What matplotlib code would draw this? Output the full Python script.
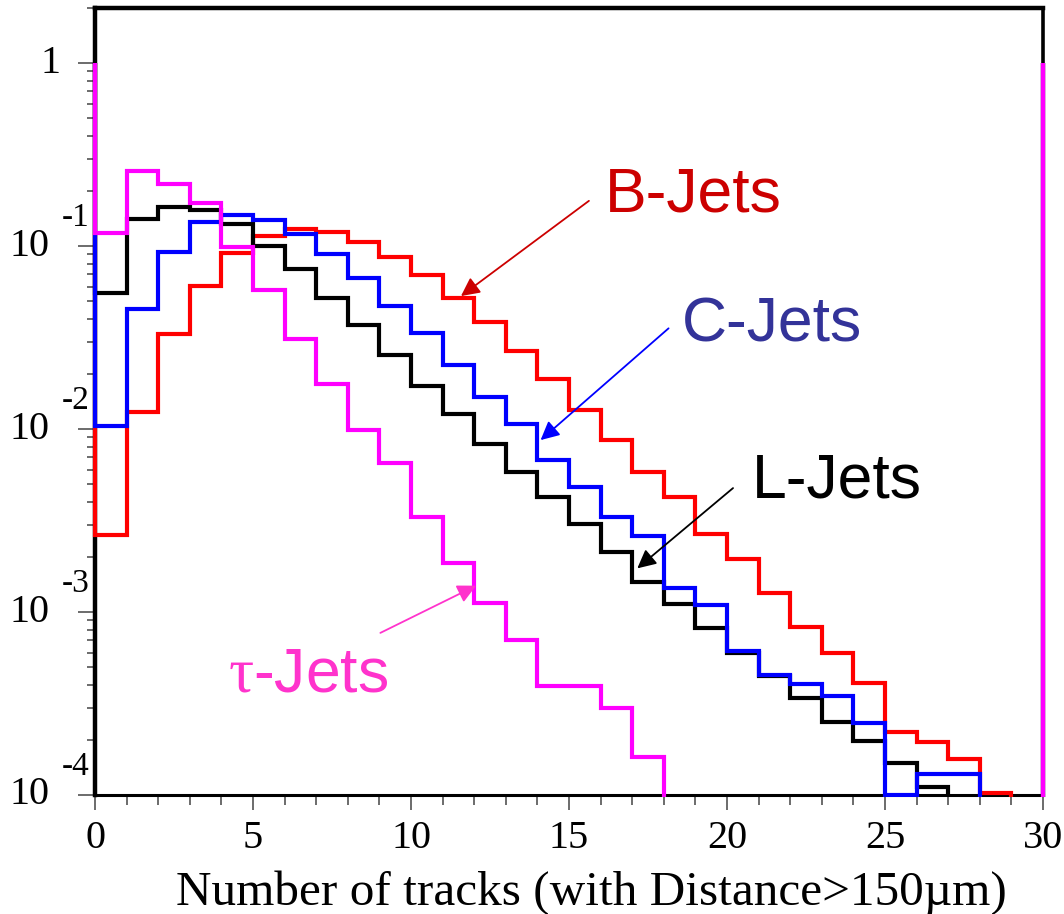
#!/usr/bin/env python3
"""Track multiplicity (impact distance > 150 um) for b, c, light and tau jets."""

import matplotlib
matplotlib.use("Agg")
import matplotlib.pyplot as plt
import matplotlib.ticker as mticker
import matplotlib.transforms as mtransforms
import numpy as np

plt.rcParams["mathtext.fontset"] = "custom"
plt.rcParams["mathtext.rm"] = "Liberation Serif"
plt.rcParams["mathtext.it"] = "Liberation Serif:italic"

# bin edges 0..30, one bin per track count
edges = np.arange(0, 31)

# normalised fractions per bin (0 = empty bin)
b_jets = [0.00264, 0.0124, 0.0330, 0.0604, 0.0916, 0.1135, 0.124, 0.119, 0.105, 0.0871,
          0.0694, 0.0520, 0.0384, 0.0267, 0.0188, 0.0127, 0.00871, 0.00582, 0.00425, 0.00267,
          0.00195, 0.00127, 0.000828, 0.000597, 0.000409, 0.000221, 0.000195, 0.000157, 0.000103, 0]
l_jets = [0.0554, 0.1405, 0.163, 0.157, 0.132, 0.100, 0.0748, 0.0520, 0.0370, 0.0254,
          0.0172, 0.0121, 0.00828, 0.00582, 0.00425, 0.00303, 0.00213, 0.00146, 0.00111, 0.000818,
          0.000597, 0.000447, 0.000339, 0.000251, 0.000197, 0.000150, 0.000111, 0, 0, 0]
c_jets = [0.0104, 0.0453, 0.0927, 0.135, 0.148, 0.139, 0.116, 0.0904, 0.0668, 0.0470,
          0.0335, 0.0224, 0.0150, 0.01064, 0.00677, 0.00482, 0.00330, 0.00260, 0.00135, 0.00109,
          0.000612, 0.000453, 0.000404, 0.000348, 0.000247, 0.0001, 0.000130, 0.000130, 0, 0]
tau_jets = [0.118, 0.257, 0.218, 0.172, 0.0988, 0.0575, 0.0310, 0.0176, 0.00988, 0.00652,
            0.00330, 0.00185, 0.00112, 0.000703, 0.000394, 0.000394, 0.000299, 0.000161, 0, 0,
            0, 0, 0, 0, 0, 0, 0, 0, 0, 0]

# level the outline's outer edges climb to (as in the original ROOT drawing)
edge_level = 1.0

x_ticks = [0, 5, 10, 15, 20, 25, 30]
y_decades = [1e-4, 1e-3, 1e-2, 1e-1, 1.0]
y_exponents = ["-4", "-3", "-2", "-1", ""]

# drawn in this order so the overlaps match the original
series = [
    ("B-Jets", b_jets, "#ff0000"),
    ("L-Jets", l_jets, "#000000"),
    ("C-Jets", c_jets, "#0000ff"),
    ("tau", tau_jets, "#ff00ff"),
]

fig = plt.figure(figsize=(10.64, 9.14), dpi=100)
ax = fig.add_axes([0.0893, 0.1302, 0.8910, 0.8610])
ax.set_yscale("log")
ax.set_xlim(0, 30)
ax.set_ylim(1e-4, 2.0)

# let the outlines sit fully on top of the frame edges
clip = mtransforms.TransformedBbox(
    mtransforms.Bbox([[-0.01, -0.002], [1.01, 1.0]]), ax.transAxes)

for name, values, color in series:
    vals = np.clip(np.asarray(values, dtype=float), 1e-7, None)
    xs = np.repeat(edges, 2)
    ys = np.concatenate([[edge_level], np.repeat(vals, 2), [edge_level]])
    line, = ax.plot(xs, ys, color=color, lw=3.0, solid_joinstyle="miter",
                    solid_capstyle="butt", zorder=3)
    line.set_clip_box(clip)

# frame
for side, width in (("left", 3.2), ("top", 3.2), ("right", 2.6), ("bottom", 2.2)):
    ax.spines[side].set_linewidth(width)
    ax.spines[side].set_color("black")
    ax.spines[side].set_zorder(2)

# ticks
ax.set_xticks(x_ticks)
ax.set_xticks(edges, minor=True)
ax.yaxis.set_major_locator(mticker.FixedLocator(y_decades))
minor_y = [m * d for d in y_decades[:-1] for m in range(2, 10)] + [2.0]
ax.yaxis.set_minor_locator(mticker.FixedLocator(minor_y))
ax.yaxis.set_major_formatter(mticker.NullFormatter())
ax.yaxis.set_minor_formatter(mticker.NullFormatter())

ax.tick_params(axis="x", which="major", direction="out", length=11, width=1.1,
               color="#444444", pad=7, labelsize=29)
ax.tick_params(axis="x", which="minor", direction="out", length=7, width=1.1,
               color="#444444")
ax.tick_params(axis="y", which="major", direction="out", length=12, width=1.1,
               color="#444444", left=True, right=False)
ax.tick_params(axis="y", which="minor", direction="out", length=6, width=1.1,
               color="#444444", left=True, right=False)
for lab in ax.get_xticklabels():
    lab.set_fontfamily("Liberation Serif")

# ROOT-style y labels: "10" with the exponent up and to the right
ytrans = ax.get_yaxis_transform()
for val, exp in zip(y_decades, y_exponents):
    if exp == "":
        t = mtransforms.offset_copy(ytrans, fig=fig, x=-35, y=0, units="dots")
        ax.text(0, val, "1", transform=t, ha="right", va="center",
                fontsize=29, family="Liberation Serif")
        continue
    t = mtransforms.offset_copy(ytrans, fig=fig, x=-46, y=0, units="dots")
    ax.text(0, val, "10", transform=t, ha="right", va="center",
            fontsize=29, family="Liberation Serif")
    t = mtransforms.offset_copy(ytrans, fig=fig, x=-33, y=28, units="dots")
    ax.text(0, val, exp, transform=t, ha="left", va="center",
            fontsize=24, family="Liberation Serif")

fig.text(0.556, 0.0098, "Number of tracks (with Distance>150\u00b5m)", ha="center",
         va="baseline", fontsize=35.5, family="Liberation Serif")

# labels and arrows (axes fraction)
labels = [
    ("B-Jets", (0.631, 0.762), "#cc0000", "#cc0000", (0.521, 0.755), (0.386, 0.634)),
    ("C-Jets", (0.714, 0.597), "#333399", "#0000ff", (0.605, 0.593), (0.470, 0.451)),
    ("L-Jets", (0.783, 0.399), "#000000", "#000000", (0.673, 0.390), (0.572, 0.288)),
    (r"$\mathrm{\tau}$-Jets", (0.225, 0.152), "#ff33cc", "#ff33cc", (0.301, 0.206), (0.402, 0.266)),
]
for text, pos, tcolor, acolor, tail, head in labels:
    ax.text(pos[0], pos[1], text, transform=ax.transAxes, ha="center", va="center",
            fontsize=45, color=tcolor, family="Liberation Sans", zorder=5)
    ax.annotate("", xy=head, xytext=tail, xycoords="axes fraction",
                textcoords="axes fraction",
                arrowprops=dict(arrowstyle="-|>", color=acolor, lw=1.3,
                                mutation_scale=28, shrinkA=0, shrinkB=0),
                zorder=5)

fig.savefig("out.png", dpi=100)
